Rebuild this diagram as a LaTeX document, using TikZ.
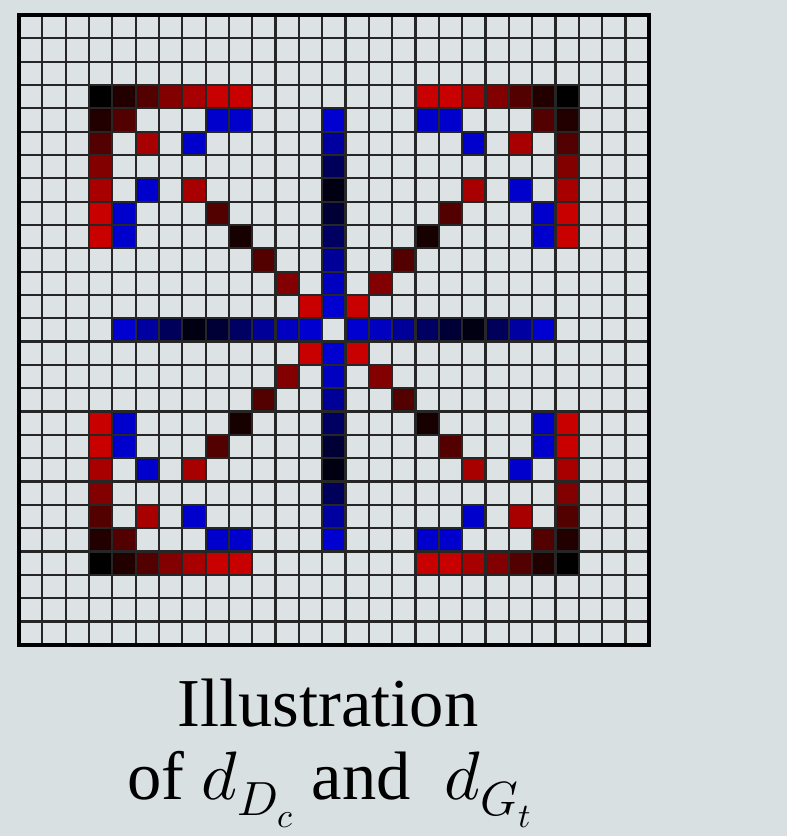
\documentclass[tikz,border=0pt]{standalone}
\usepackage{fontspec}
\usepackage{unicode-math}
\setmainfont{Liberation Serif}
\setmathfont{Latin Modern Math}
\usetikzlibrary{positioning}

\definecolor{pagebg}{HTML}{D9E0E2}
\definecolor{cellbg}{HTML}{DDE3E4}
% red levels of the corner frames and diagonals
\definecolor{redA}{HTML}{000000}
\definecolor{redB}{HTML}{230000}
\definecolor{redC}{HTML}{520000}
\definecolor{redD}{HTML}{820000}
\definecolor{redE}{HTML}{A80000}
\definecolor{redF}{HTML}{C80000}
\definecolor{redG}{HTML}{160000}
\definecolor{bluePt}{HTML}{0000CC}
% blue levels of the centre cross, by distance from the middle
\definecolor{axis1}{HTML}{0000D0}
\definecolor{axis2}{HTML}{0000C0}
\definecolor{axis3}{HTML}{000098}
\definecolor{axis4}{HTML}{000062}
\definecolor{axis5}{HTML}{000036}
\definecolor{axis6}{HTML}{000012}
\definecolor{axis7}{HTML}{00005A}
\definecolor{axis8}{HTML}{0000A0}
\definecolor{axis9}{HTML}{0000D0}

\tikzset{
  gridline/.style={black!85, line width=1.3pt},
  gridframe/.style={black, line width=2.2pt},
  capfont/.style={font=\fontsize{39}{47}\selectfont, anchor=base, inner sep=0pt},
}

\begin{document}
\begin{tikzpicture}[x=0.02cm, y=-0.02cm]
    \fill[pagebg] (0,0) rectangle (787,836);

    \begin{scope}[shift={(19,15)}, x=0.4667cm, y=-0.4667cm]
        \fill[cellbg] (0,0) rectangle (27,27);

        % one quadrant, mirrored four ways
        \foreach \r/\c/\col in {3/3/redA, 3/4/redB, 4/3/redB, 3/5/redC, 5/3/redC,
                                3/6/redD, 6/3/redD, 3/7/redE, 7/3/redE, 3/8/redF, 8/3/redF,
                                3/9/redF, 9/3/redF, 4/4/redC,
                                4/8/bluePt, 4/9/bluePt, 8/4/bluePt, 9/4/bluePt,
                                5/7/bluePt, 7/5/bluePt,
                                5/5/redE, 7/7/redE, 8/8/redC, 9/9/redG,
                                10/10/redC, 11/11/redD, 12/12/redF} {
            \foreach \rr in {\r,26-\r}
                \foreach \cc in {\c,26-\c}
                    \fill[\col] (\cc,\rr) rectangle ++(1,1);
        }

        % centre cross
        \foreach \d in {1,...,9} {
            \fill[axis\d] (13,13-\d) rectangle ++(1,1);
            \fill[axis\d] (13,13+\d) rectangle ++(1,1);
            \fill[axis\d] (13-\d,13) rectangle ++(1,1);
            \fill[axis\d] (13+\d,13) rectangle ++(1,1);
        }

        \foreach \i in {1,...,26} {
            \draw[gridline] (\i,0) -- (\i,27);
            \draw[gridline] (0,\i) -- (27,\i);
        }
        \draw[gridframe] (0,0) rectangle (27,27);
    \end{scope}

    \node[capfont] (capA) at (328,726) {Illustration};
    \node[capfont] (capB) at (330,799) {of $d_{D_c}$ and\ \ $d_{G_t}$};
\end{tikzpicture}
\end{document}
